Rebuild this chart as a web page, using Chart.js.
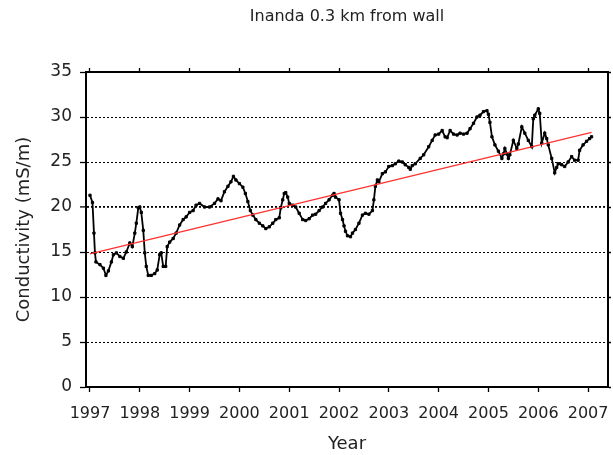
<!DOCTYPE html>
<html>
<head>
<meta charset="utf-8">
<script src="https://cdn.jsdelivr.net/npm/chart.js@4"></script>
<style>
  html, body { margin: 0; padding: 0; background: #fff; }
</style>
</head>
<body>
<canvas id="myChart" width="613" height="455"></canvas>
<script>
const years = [
  1997.00, 1997.05, 1997.08, 1997.10, 1997.12, 1997.20, 1997.27, 1997.32, 1997.37, 1997.43,
  1997.47, 1997.53, 1997.60, 1997.67, 1997.73, 1997.80, 1997.85, 1997.90, 1997.93, 1997.97,
  1998.00, 1998.03, 1998.07, 1998.10, 1998.13, 1998.17, 1998.23, 1998.30, 1998.35, 1998.40,
  1998.43, 1998.47, 1998.52, 1998.55, 1998.60, 1998.67, 1998.73, 1998.80, 1998.87, 1998.93,
  1999.00, 1999.07, 1999.13, 1999.20, 1999.30, 1999.40, 1999.50, 1999.57, 1999.63, 1999.70,
  1999.77, 1999.83, 1999.88, 1999.93, 2000.00, 2000.07, 2000.12, 2000.17, 2000.22, 2000.27,
  2000.33, 2000.40, 2000.47, 2000.53, 2000.60, 2000.67, 2000.73, 2000.80, 2000.83, 2000.87,
  2000.90, 2000.93, 2000.97, 2001.00, 2001.07, 2001.13, 2001.20, 2001.27, 2001.33, 2001.40,
  2001.47, 2001.53, 2001.60, 2001.67, 2001.73, 2001.80, 2001.87, 2001.90, 2001.93, 2002.00,
  2002.03, 2002.07, 2002.10, 2002.13, 2002.17, 2002.23, 2002.27, 2002.33, 2002.40, 2002.47,
  2002.53, 2002.60, 2002.67, 2002.70, 2002.73, 2002.77, 2002.80, 2002.87, 2002.93, 2003.00,
  2003.07, 2003.13, 2003.20, 2003.27, 2003.33, 2003.40, 2003.43, 2003.47, 2003.53, 2003.63,
  2003.70, 2003.80, 2003.87, 2003.93, 2004.00, 2004.07, 2004.13, 2004.17, 2004.23, 2004.30,
  2004.37, 2004.43, 2004.50, 2004.57, 2004.63, 2004.70, 2004.77, 2004.83, 2004.90, 2004.97,
  2005.00, 2005.03, 2005.07, 2005.13, 2005.20, 2005.27, 2005.30, 2005.33, 2005.37, 2005.40,
  2005.43, 2005.50, 2005.57, 2005.60, 2005.67, 2005.73, 2005.80, 2005.87, 2005.90, 2005.93,
  2006.00, 2006.03, 2006.07, 2006.13, 2006.17, 2006.20, 2006.27, 2006.33, 2006.37, 2006.40,
  2006.47, 2006.53, 2006.60, 2006.67, 2006.73, 2006.80, 2006.83, 2006.90, 2006.97, 2007.03,
  2007.07
];
const conductivity = [
  21.3, 20.5, 17.1, 14.9, 13.9, 13.6, 13.2, 12.4, 12.9, 13.9,
  14.7, 14.9, 14.5, 14.3, 15.0, 16.0, 15.6, 17.1, 18.2, 19.9,
  20.0, 19.4, 17.4, 14.9, 13.4, 12.4, 12.4, 12.6, 13.0, 14.7,
  14.9, 13.4, 13.4, 15.6, 16.1, 16.5, 17.1, 18.0, 18.6, 18.9,
  19.4, 19.6, 20.2, 20.4, 20.0, 20.0, 20.4, 20.9, 20.7, 21.7,
  22.3, 22.8, 23.4, 23.0, 22.6, 22.2, 21.5, 20.6, 19.6, 19.1,
  18.6, 18.2, 17.9, 17.6, 17.8, 18.2, 18.6, 18.8, 19.9, 20.8,
  21.5, 21.6, 21.1, 20.4, 20.2, 20.0, 19.3, 18.6, 18.5, 18.7,
  19.1, 19.2, 19.6, 20.0, 20.4, 20.8, 21.3, 21.5, 21.1, 20.8,
  19.3, 18.6, 17.9, 17.3, 16.8, 16.7, 17.1, 17.5, 18.2, 19.1,
  19.3, 19.2, 19.6, 20.8, 22.3, 23.0, 22.8, 23.7, 23.9, 24.5,
  24.6, 24.8, 25.1, 25.0, 24.7, 24.4, 24.2, 24.6, 24.8, 25.4,
  25.8, 26.7, 27.4, 28.0, 28.1, 28.5, 27.8, 27.7, 28.5, 28.1,
  28.0, 28.2, 28.1, 28.2, 28.7, 29.3, 30.0, 30.2, 30.6, 30.7,
  30.3, 29.4, 27.8, 26.9, 26.2, 25.4, 25.9, 26.5, 25.9, 25.4,
  25.8, 27.4, 26.5, 27.0, 28.9, 28.2, 27.4, 26.7, 29.8, 30.2,
  30.9, 30.4, 27.1, 28.2, 27.6, 26.9, 25.4, 23.8, 24.4, 24.8,
  24.7, 24.5, 25.0, 25.6, 25.2, 25.2, 26.3, 26.9, 27.3, 27.6,
  27.8
];
const trendYears = [1997.0, 2007.07];
const trendValues = [14.8, 28.3];
const yearTicks = [1997, 1998, 1999, 2000, 2001, 2002, 2003, 2004, 2005, 2006, 2007];
const yTicks = [0, 5, 10, 15, 20, 25, 30, 35];

const font = '"DejaVu Sans", Verdana, sans-serif';
const textColor = '#222';
const xMin = 1996.92, xMax = 2007.4;

const lineData = years.map((y, i) => ({ x: y, y: conductivity[i] }));
const trendData = trendYears.map((y, i) => ({ x: y, y: trendValues[i] }));

const setYears = s => { s.ticks = yearTicks.map(v => ({ value: v })); };
const setYs = s => { s.ticks = yTicks.map(v => ({ value: v })); };
// keep the plot area fixed, labels may run to the canvas edge
const noPad = s => { s.paddingLeft = 0; s.paddingRight = 0; s.paddingTop = 0; s.paddingBottom = 0; };

const ctx = document.querySelector('#myChart').getContext('2d');
const config = {
  type: 'line',
  data: {
    datasets: [{
      label: 'Trend',
      data: trendData,
      borderColor: '#ff3030',
      borderWidth: 1.2,
      pointRadius: 0,
      tension: 0
    }, {
      label: 'Conductivity',
      data: lineData,
      borderColor: '#000',
      borderWidth: 1.8,
      pointStyle: 'rect',
      pointRadius: 1.6,
      pointBackgroundColor: '#000',
      pointBorderColor: '#000',
      pointBorderWidth: 1,
      tension: 0
    }]
  },
  options: {
    responsive: false,
    animation: false,
    layout: { padding: 0 },
    plugins: {
      legend: { display: false },
      tooltip: { enabled: false },
      title: {
        display: true,
        text: 'Inanda 0.3 km from wall',
        fullSize: false,
        color: textColor,
        font: { family: font, size: 16, weight: 'normal' },
        padding: { top: 7, bottom: 41.8 }
      }
    },
    scales: {
      x: {
        type: 'linear',
        position: 'bottom',
        min: xMin,
        max: xMax,
        afterBuildTicks: setYears,
        afterFit: s => { s.height = 68; noPad(s); },
        ticks: {
          color: textColor,
          font: { family: font, size: 16 },
          padding: 12,
          maxRotation: 0,
          autoSkip: false,
          callback: v => String(v)
        },
        grid: { drawOnChartArea: false, tickLength: 5, tickColor: '#000', tickWidth: 1.3 },
        border: { color: '#000', width: 2 },
        title: {
          display: true,
          text: 'Year',
          color: textColor,
          font: { family: font, size: 18 },
          padding: { top: 0, bottom: 0 }
        }
      },
      x2: {
        type: 'linear',
        position: 'top',
        min: xMin,
        max: xMax,
        afterBuildTicks: setYears,
        afterFit: s => { s.height = 4; noPad(s); },
        ticks: { display: false },
        grid: { drawOnChartArea: false, tickLength: 4, tickColor: '#000', tickWidth: 1.3 },
        border: { color: '#000', width: 2 }
      },
      y: {
        min: 0,
        max: 35,
        afterBuildTicks: setYs,
        afterFit: s => { s.width = 86; noPad(s); },
        ticks: {
          color: textColor,
          font: { family: font, size: 17 },
          padding: 8
        },
        grid: {
          color: c => (c.tick && (c.tick.value === 0 || c.tick.value === 35)) ? 'rgba(0,0,0,0)' : '#000',
          lineWidth: c => (c.tick && c.tick.value === 20) ? 1.8 : 1,
          tickLength: 6,
          tickColor: '#000',
          tickWidth: 1.3,
          tickBorderDash: []
        },
        border: { color: '#000', width: 2, dash: [2, 2] },
        title: {
          display: true,
          text: 'Conductivity (mS/m)',
          color: textColor,
          font: { family: font, size: 18 },
          padding: { top: 14, bottom: 0 }
        }
      },
      y2: {
        position: 'right',
        min: 0,
        max: 35,
        afterBuildTicks: setYs,
        afterFit: s => { s.width = 3; noPad(s); },
        ticks: { display: false },
        grid: { drawOnChartArea: false, tickLength: 3, tickColor: '#000', tickWidth: 1.3 },
        border: { color: '#000', width: 2 }
      }
    }
  }
};

const myChart = new Chart(ctx, config);
</script>
</body>
</html>
